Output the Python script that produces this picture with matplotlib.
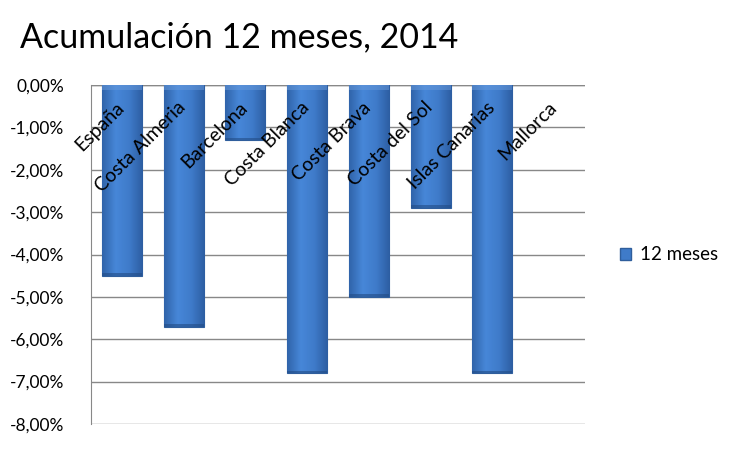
import matplotlib
matplotlib.use("Agg")
import matplotlib.pyplot as plt
import numpy as np
from matplotlib.patches import Patch
from matplotlib.colors import LinearSegmentedColormap

categories = ["España", "Costa Almeria", "Barcelona", "Costa Blanca",
              "Costa Brava", "Costa del Sol", "Islas Canarias", "Mallorca"]
values = [-4.5, -5.7, -1.3, -6.8, -5.0, -2.9, -6.8, np.nan]
series_name = "12 meses"
title = "Acumulación 12 meses, 2014"
yticks = [0, -1, -2, -3, -4, -5, -6, -7, -8]

plt.rcParams['font.family'] = ['Lato', 'DejaVu Sans']

fig = plt.figure(figsize=(7.5, 4.55), dpi=100)
ax = fig.add_axes([91/750, 1-424/455, (585-91)/750, (424-85)/455])

x = np.arange(len(categories))
bars = ax.bar(x, values, width=0.65, color="#3F7BC9", edgecolor="#2F5E9C",
              linewidth=0.8, zorder=3)

cmap = LinearSegmentedColormap.from_list("b", ["#3064AA", "#4787D8", "#3F7BCA", "#2D5EA2"])
grad = np.linspace(0, 1, 64).reshape(1, -1)
for b, v in zip(bars, values):
    if not np.isfinite(v) or v == 0:
        continue
    x0 = b.get_x(); w = b.get_width()
    im = ax.imshow(grad, extent=[x0, x0 + w, v, 0], aspect='auto', cmap=cmap,
                   zorder=3.5, interpolation='bicubic')
    im.set_clip_path(b)
    ax.fill_between([x0, x0 + w], [0, 0], [-0.12, -0.12], color="#6A9BDB",
                    alpha=0.5, zorder=3.6, linewidth=0)
    ax.fill_between([x0, x0 + w], [v + 0.06, v + 0.06], [v, v], color="#224C85",
                    alpha=0.6, zorder=3.6, linewidth=0)

ax.set_xlim(-0.5, len(categories) - 0.5)
ax.set_ylim(-8, 0)
ax.set_yticks(yticks)
ax.set_yticklabels([f"{t:.2f}".replace(".", ",") + "%" for t in yticks], fontsize=12.5)
ax.tick_params(axis='y', length=0, pad=19)
ax.set_xticks([])
ax.grid(axis='y', color="#888888", linewidth=1, zorder=0)
for s in ["top", "right", "bottom"]:
    ax.spines[s].set_visible(False)
ax.spines["left"].set_color("#888888")
ax.axhline(0, color="#888888", linewidth=1, zorder=2)

for xi, name in zip(x, categories):
    ax.annotate(name, xy=(xi, 0), xytext=(4, -10), textcoords='offset points',
                rotation=45, ha='right', va='top', fontsize=14, zorder=5,
                rotation_mode='default')

fig.text(20/750, 1-37/455, title, fontsize=24.5, va='center', ha='left')

h = Patch(facecolor="#3F7BC9", edgecolor="#2F5E9C", label=series_name)
fig.legend(handles=[h], loc='center left', bbox_to_anchor=(603/750, 1-255/455),
           frameon=False, fontsize=13.5, handlelength=0.6, handleheight=0.6,
           handletextpad=0.5)

fig.savefig("out.png", dpi=100)
